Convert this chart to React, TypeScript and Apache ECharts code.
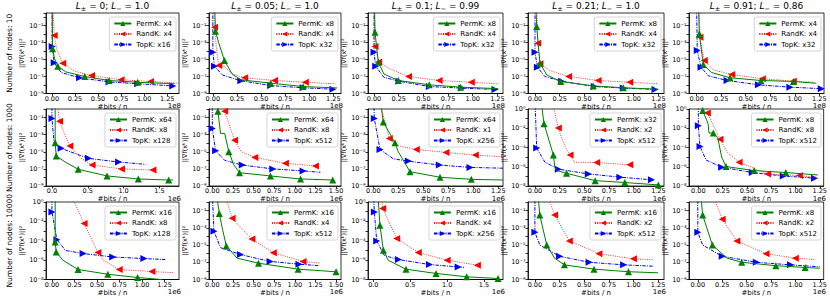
import React, { useEffect, useRef } from 'react';
import * as echarts from 'echarts';

type P = [number, number, number]; // [x (display units), y, marker flag]

// ---------- Row 1: 10 nodes (x in 1e8) ----------
const r1c1Perm: P[] = [[0.003, 10, 0], [0.007, 1.8e-4, 1], [0.03, 1.2e-5, 0], [0.064, 1.6e-6, 1], [0.15, 3.5e-7, 0], [0.356, 1e-7, 1], [0.62, 3.4e-8, 1], [0.93, 2.1e-8, 1], [1.33, 1.4e-8, 0]];
const r1c1Rand: P[] = [[0.012, 10, 0], [0.025, 6.6e-3, 1], [0.05, 2e-4, 0], [0.117, 3.7e-6, 1], [0.25, 4e-7, 0], [0.43, 1.3e-7, 1], [0.75, 4.1e-8, 1], [1.07, 2.6e-8, 1], [1.38, 1.6e-8, 0]];
const r1c1Top: P[] = [[0.002, 10, 0], [0.003, 3.4e-4, 1], [0.025, 4.1e-6, 1], [0.1, 3e-7, 0], [0.3, 7.1e-8, 1], [0.62, 2.3e-8, 1], [0.93, 1.4e-8, 1], [1.31, 7.9e-9, 1]];

const r1c2Perm: P[] = [[0.02, 10, 0], [0.027, 2.1e-2, 1], [0.06, 1e-3, 0], [0.12, 7.6e-6, 1], [0.2, 2e-7, 0], [0.29, 4.1e-8, 0], [0.6, 1.66e-8, 1], [0.936, 6.6e-9, 1], [1.29, 4.5e-9, 0]];
const r1c2Rand: P[] = [[0.012, 10, 0], [0.017, 6.3e-2, 1], [0.04, 1e-4, 0], [0.062, 2e-6, 1], [0.12, 1.5e-6, 0], [0.2, 2e-7, 0], [0.33, 7.1e-8, 1], [0.64, 3.4e-8, 1], [0.96, 2.1e-8, 1], [1.27, 1.4e-8, 0]];
const r1c2Top: P[] = [[0.0, 10, 0], [0.0, 7.2e-5, 1], [0.017, 1.6e-6, 1], [0.1, 1.5e-7, 0], [0.29, 3.2e-8, 1], [0.6, 8.7e-9, 1], [0.936, 4.7e-9, 1], [1.246, 3.2e-9, 1]];

const r1c3Perm: P[] = [[0.005, 10, 0], [0.01, 1.6e-2, 1], [0.044, 4.9e-6, 1], [0.1, 2e-7, 0], [0.246, 3.4e-8, 1], [0.56, 1.05e-8, 1], [0.878, 5.6e-9, 1], [1.26, 3.7e-9, 0]];
const r1c3Rand: P[] = [[0.005, 10, 0], [0.01, 3.4e-4, 1], [0.047, 5e-6, 1], [0.16, 7.9e-7, 0], [0.35, 1e-7, 1], [0.66, 3.4e-8, 1], [0.986, 2.1e-8, 1], [1.26, 1.4e-8, 0]];
const r1c3Top: P[] = [[0.0, 10, 0], [0.0, 7.2e-5, 1], [0.017, 1.6e-6, 1], [0.1, 8e-8, 0], [0.253, 2.8e-8, 1], [0.56, 6.6e-9, 1], [0.89, 4.3e-9, 1], [1.226, 3e-9, 1]];

const r1c4Perm: P[] = [[0.01, 10, 0], [0.017, 7.6e-2, 1], [0.05, 3.7e-6, 1], [0.12, 1.5e-7, 0], [0.26, 2.6e-8, 1], [0.59, 7.9e-9, 1], [0.895, 4.7e-9, 1], [1.25, 3.2e-9, 0]];
const r1c4Rand: P[] = [[0.02, 10, 0], [0.027, 8.3e-4, 1], [0.05, 3.2e-6, 1], [0.15, 5e-7, 0], [0.34, 1e-7, 1], [0.64, 3.4e-8, 1], [0.96, 2.1e-8, 1], [1.25, 1.4e-8, 0]];
const r1c4Top: P[] = [[0.0, 10, 0], [0.0, 7.2e-5, 1], [0.024, 1.26e-6, 1], [0.1, 1e-7, 0], [0.27, 2.8e-8, 1], [0.6, 6.6e-9, 1], [0.895, 4.3e-9, 1], [1.216, 3e-9, 1]];

const r1c5Perm: P[] = [[0.02, 10, 0], [0.027, 1.05e-2, 1], [0.068, 2.6e-6, 1], [0.15, 3e-7, 0], [0.34, 7.1e-8, 1], [0.655, 3.4e-8, 1], [0.985, 2.6e-8, 1], [1.22, 1.6e-8, 0]];
const r1c5Rand: P[] = [[0.025, 10, 0], [0.034, 4.3e-3, 1], [0.078, 7.6e-6, 1], [0.17, 6e-7, 0], [0.357, 1.74e-7, 1], [0.67, 5.4e-8, 1], [0.985, 2.8e-8, 1], [1.2, 2.1e-8, 0]];
const r1c5Top: P[] = [[0.0, 10, 0], [0.006, 1.15e-4, 1], [0.044, 1.26e-6, 1], [0.12, 1.2e-7, 0], [0.31, 3.4e-8, 1], [0.63, 1.05e-8, 1], [0.95, 5.6e-9, 1], [1.27, 3.7e-9, 1]];

// ---------- Row 2: 1000 nodes (x in 1e6) ----------
const r2c1Perm: P[] = [[0.045, 10, 0], [0.045, 1.1e-4, 1], [0.06, 3.2e-6, 1], [0.18, 6.8e-7, 0], [0.367, 8.9e-8, 1], [0.77, 1.5e-8, 1], [1.206, 6.6e-9, 1], [1.63, 5e-9, 1], [1.69, 5e-9, 0]];
const r2c1Rand: P[] = [[0.07, 10, 0], [0.106, 3.7e-2, 1], [0.18, 1e-3, 0], [0.25, 4.6e-5, 1], [0.41, 1.7e-6, 0], [0.56, 2.8e-7, 1], [0.97, 1e-7, 1], [1.41, 7.2e-8, 1]];
const r2c1Top: P[] = [[0.0, 10, 0], [0.0, 7.6e-2, 1], [0.02, 1e-3, 0], [0.03, 1e-4, 0], [0.128, 2.5e-5, 1], [0.51, 1.7e-6, 1], [0.93, 6.3e-7, 1], [1.31, 3.4e-7, 0]];

const r2c2Perm: P[] = [[0.06, 10, 0], [0.068, 0.54, 1], [0.1, 1.4e-3, 0], [0.15, 1.4e-3, 0], [0.2, 1e-5, 1], [0.26, 3e-7, 0], [0.33, 3.6e-8, 1], [0.705, 1.5e-8, 1], [1.07, 6.6e-9, 1], [1.46, 5e-9, 1]];
const r2c2Rand: P[] = [[0.14, 10, 0], [0.15, 0.54, 1], [0.2, 2e-2, 0], [0.27, 2.3e-4, 1], [0.35, 1e-5, 0], [0.515, 2.2e-6, 1], [0.886, 4.5e-7, 1], [1.25, 2.2e-7, 1]];
const r2c2Top: P[] = [[0.0, 10, 0], [0.0, 5.2e-3, 1], [0.04, 1.3e-5, 1], [0.15, 1e-6, 0], [0.363, 2.8e-7, 1], [0.733, 1e-7, 1], [1.1, 5.8e-8, 1], [1.31, 4e-8, 0]];

const r2c3Perm: P[] = [[0.07, 10, 0], [0.1, 3.1e-2, 1], [0.217, 1.1e-4, 1], [0.25, 1e-5, 0], [0.3, 1e-6, 0], [0.367, 4.7e-8, 1], [0.667, 1.05e-8, 1], [0.98, 6e-9, 1], [1.3, 5e-9, 0]];
const r2c3Rand: P[] = [[0.06, 10, 0], [0.16, 3.6e-4, 1], [0.25, 5e-5, 0], [0.43, 1.9e-5, 1], [0.727, 8.5e-6, 1], [1.02, 4.1e-6, 1], [1.3, 2.6e-6, 0]];
const r2c3Top: P[] = [[0.005, 10, 0], [0.01, 7.6e-2, 1], [0.067, 1.9e-5, 1], [0.2, 1.5e-6, 0], [0.35, 8.1e-7, 1], [0.66, 2.8e-7, 1], [0.967, 1.5e-7, 1], [1.3, 1.2e-7, 0]];

const r2c4Perm: P[] = [[0.06, 10, 0], [0.091, 2.95e-2, 1], [0.186, 1.7e-5, 1], [0.2, 1e-6, 0], [0.22, 4e-7, 0], [0.32, 2.1e-7, 1], [0.61, 3.6e-8, 1], [0.91, 2.3e-8, 1], [1.25, 1.3e-8, 1]];
const r2c4Rand: P[] = [[0.17, 10, 0], [0.236, 1.05e-2, 1], [0.27, 1e-3, 0], [0.31, 1e-4, 0], [0.355, 1.7e-5, 1], [0.4, 3e-6, 0], [0.625, 2.75e-6, 1], [0.96, 1.6e-6, 1]];
const r2c4Top: P[] = [[0.0, 10, 0], [0.017, 8.7e-5, 1], [0.1, 3e-6, 0], [0.236, 5.6e-7, 1], [0.54, 1.8e-7, 1], [0.86, 8.3e-8, 1], [1.18, 4.4e-8, 1]];

const r2c5Perm: P[] = [[0.03, 10, 0], [0.045, 0.71, 1], [0.1, 3e-2, 0], [0.11, 3.2e-3, 0], [0.154, 3.2e-3, 1], [0.2, 1e-3, 0], [0.24, 1e-5, 0], [0.285, 1.05e-6, 1], [0.575, 4e-7, 1], [0.9, 2.5e-7, 1], [1.23, 1.4e-7, 0]];
const r2c5Rand: P[] = [[0.07, 10, 0], [0.093, 0.38, 1], [0.223, 7.4e-4, 1], [0.3, 3e-5, 0], [0.42, 3e-6, 1], [0.713, 1.8e-7, 1], [1.04, 1.2e-7, 1], [1.23, 8e-8, 0]];
const r2c5Top: P[] = [[0.0, 10, 0], [0.0, 1.8e-2, 1], [0.017, 1.26e-4, 1], [0.08, 5e-6, 0], [0.24, 9.1e-7, 1], [0.555, 2.5e-7, 1], [0.874, 1.1e-7, 1], [1.196, 6.5e-8, 1]];

// ---------- Row 3: 10000 nodes (x in 1e6) ----------
const r3c1Perm: P[] = [[0.036, 10, 0], [0.036, 7.6e-5, 1], [0.047, 7.1e-6, 1], [0.12, 1e-6, 0], [0.29, 1.07e-7, 1], [0.62, 3.5e-8, 1], [0.95, 1.6e-8, 1], [1.22, 1e-8, 0]];
const r3c1Rand: P[] = [[0.2, 10, 0], [0.357, 5.9e-3, 1], [0.51, 6e-6, 1], [0.57, 1e-6, 0], [0.747, 1.07e-7, 1], [1.11, 6.6e-8, 1], [1.35, 5e-8, 0]];
const r3c1Top: P[] = [[0.0, 10, 0], [0.0, 9.3e-2, 1], [0.055, 1.3e-4, 1], [0.15, 1e-5, 0], [0.346, 4.8e-6, 1], [0.674, 2.1e-6, 1], [1.02, 1.45e-6, 1], [1.257, 1.15e-6, 0]];

const r3c2Perm: P[] = [[0.05, 10, 0], [0.085, 4.6e-2, 1], [0.12, 1e-3, 0], [0.17, 7.9e-6, 1], [0.3, 3e-7, 0], [0.56, 7.9e-8, 1], [1.04, 1.6e-8, 1], [1.5, 7.9e-9, 1]];
const r3c2Rand: P[] = [[0.15, 10, 0], [0.24, 1.26e-2, 1], [0.48, 5e-5, 1], [0.74, 1.26e-6, 1], [1.1, 1.26e-7, 1], [1.3, 8e-8, 0]];
const r3c2Top: P[] = [[0.0, 10, 0], [0.02, 4e-4, 1], [0.1, 5e-6, 0], [0.34, 7.9e-7, 1], [0.7, 1.26e-7, 1], [1.05, 6e-8, 1], [1.3, 4e-8, 0]];

const r3c3Perm: P[] = [[0.06, 10, 0], [0.09, 4e-3, 1], [0.136, 1.05e-5, 1], [0.2, 1e-6, 0], [0.443, 1.15e-7, 1], [0.85, 4.2e-8, 1], [1.265, 1.9e-8, 1], [1.69, 1.26e-8, 1]];
const r3c3Rand: P[] = [[0.1, 10, 0], [0.127, 0.21, 1], [0.317, 1.7e-4, 1], [0.61, 6e-6, 1], [1.0, 1e-6, 1], [1.41, 3e-7, 1], [1.47, 2.8e-7, 0]];
const r3c3Top: P[] = [[0.0, 10, 0], [0.014, 9.3e-2, 1], [0.046, 9.5e-5, 1], [0.15, 3e-6, 0], [0.34, 1.15e-6, 1], [0.76, 3.5e-7, 1], [1.15, 2e-7, 1], [1.23, 1.8e-7, 0]];

const r3c4Perm: P[] = [[0.03, 10, 0], [0.05, 3e-2, 1], [0.12, 1e-5, 1], [0.2, 3e-7, 0], [0.3, 5e-8, 1], [0.6, 1.6e-8, 1], [0.95, 8e-9, 1], [1.25, 6e-9, 0]];
const r3c4Rand: P[] = [[0.12, 10, 0], [0.2, 3e-2, 1], [0.35, 3e-5, 1], [0.65, 1e-6, 1], [1.0, 2.5e-7, 1], [1.2, 2e-7, 0]];
const r3c4Top: P[] = [[0.0, 10, 0], [0.0, 3e-4, 1], [0.05, 1e-5, 0], [0.25, 5e-7, 1], [0.55, 1e-7, 1], [0.9, 5e-8, 1], [1.2, 3.5e-8, 0]];

const r3c5Perm: P[] = [[0.03, 10, 0], [0.05, 3e-2, 1], [0.15, 1e-5, 1], [0.3, 3e-7, 0], [0.45, 1e-7, 1], [0.8, 4e-8, 1], [1.1, 2.5e-8, 1], [1.25, 2e-8, 0]];
const r3c5Rand: P[] = [[0.15, 10, 0], [0.25, 1e-2, 1], [0.4, 3e-5, 1], [0.7, 1e-6, 1], [1.0, 3e-7, 1], [1.2, 2e-7, 0]];
const r3c5Top: P[] = [[0.0, 10, 0], [0.0, 3e-4, 1], [0.05, 1e-5, 0], [0.25, 5e-7, 1], [0.6, 1e-7, 1], [0.95, 5e-8, 1], [1.25, 3e-8, 0]];

// ---------- labels ----------
const nodeCounts = ['10', '1000', '10000'];
const lPlusMinus = ['0', '0.05', '0.1', '0.21', '0.91'];
const lMinus = ['1.0', '1.0', '0.99', '1.0', '0.86'];
const permMult = [['x4', 'x8', 'x8', 'x8', 'x4'], ['x64', 'x64', 'x64', 'x32', 'x8'], ['x16', 'x16', 'x16', 'x16', 'x8']];
const randMult = [['x4', 'x4', 'x4', 'x4', 'x4'], ['x8', 'x8', 'x1', 'x2', 'x8'], ['x8', 'x4', 'x4', 'x2', 'x2']];
const topMult = [['x16', 'x32', 'x32', 'x32', 'x32'], ['x128', 'x512', 'x256', 'x512', 'x512'], ['x128', 'x512', 'x256', 'x512', 'x512']];
const xOffsetText = ['1e8', '1e6', '1e6'];

const ticksQ = [0, 0.25, 0.5, 0.75, 1, 1.25];
const ticksQ6 = [0, 0.25, 0.5, 0.75, 1, 1.25, 1.5];
const ticksH = [0, 0.5, 1, 1.5];
const xTicks = [
  [ticksQ, ticksQ, ticksQ, ticksQ, ticksQ],
  [ticksH, ticksQ6, ticksQ, ticksQ, ticksQ],
  [ticksQ, ticksQ6, ticksH, ticksQ, ticksQ],
];
const xMin = [[-0.064, -0.04, -0.061, -0.071, -0.078], [-0.083, -0.04, -0.053, -0.071, -0.096], [-0.066, -0.04, -0.072, -0.07, -0.09]];
const xMax = [[1.378, 1.33, 1.307, 1.307, 1.298], [1.774, 1.56, 1.297, 1.307, 1.29], [1.41, 1.56, 1.757, 1.31, 1.29]];
const yMin = [[1e-9, 1e-9, 1e-9, 1e-9, 1e-9], [1e-9, 1e-9, 1e-9, 1e-8, 1e-8], [1e-8, 1e-9, 1e-8, 1e-9, 1e-9]];
const yMax = [[3, 3, 3, 3, 3], [1, 1, 1, 1, 1], [1, 1, 1, 1, 1]];

const panelData: P[][][] = [
  [[r1c1Perm, r1c1Rand, r1c1Top], [r1c2Perm, r1c2Rand, r1c2Top], [r1c3Perm, r1c3Rand, r1c3Top], [r1c4Perm, r1c4Rand, r1c4Top], [r1c5Perm, r1c5Rand, r1c5Top]],
  [[r2c1Perm, r2c1Rand, r2c1Top], [r2c2Perm, r2c2Rand, r2c2Top], [r2c3Perm, r2c3Rand, r2c3Top], [r2c4Perm, r2c4Rand, r2c4Top], [r2c5Perm, r2c5Rand, r2c5Top]],
  [[r3c1Perm, r3c1Rand, r3c1Top], [r3c2Perm, r3c2Rand, r3c2Top], [r3c3Perm, r3c3Rand, r3c3Top], [r3c4Perm, r3c4Rand, r3c4Top], [r3c5Perm, r3c5Rand, r3c5Top]],
];

// ---------- layout ----------
const W = 830;
const H = 299;
const colLeft = [46, 209, 368, 528, 689];
const colRight = [179, 341, 503, 664, 824];
const rowTop = [13, 109, 202];
const rowBottom = [93.5, 186, 279.5];
const FONT = 'DejaVu Sans';

const SUP: Record<string, string> = { '-': '⁻', '0': '⁰', '1': '¹', '2': '²', '3': '³', '4': '⁴', '5': '⁵', '6': '⁶', '7': '⁷', '8': '⁸', '9': '⁹' };
const sup = (n: number) => String(n).split('').map((ch) => SUP[ch] || ch).join('');

const kinds = [
  { prefix: 'PermK', color: '#008000', dash: 'solid' as any, rot: 0, width: 1 },
  { prefix: 'RandK', color: '#ff0000', dash: [1, 1.3] as any, rot: 90, width: 0.8 },
  { prefix: 'TopK', color: '#0000ff', dash: [3.5, 1.2, 1, 1.2] as any, rot: -90, width: 1 },
];

function buildOption() {
  const grid: any[] = [];
  const xAxis: any[] = [];
  const yAxis: any[] = [];
  const series: any[] = [];
  const legend: any[] = [];
  const graphic: any[] = [];
  const mults = [permMult, randMult, topMult];

  for (let r = 0; r < 3; r++) {
    for (let c = 0; c < 5; c++) {
      const idx = r * 5 + c;
      const left = colLeft[c];
      const width = colRight[c] - colLeft[c];
      const top = rowTop[r];
      const height = rowBottom[r] - rowTop[r];
      grid.push({ left, top, width, height, show: true, borderColor: '#000', borderWidth: 0.8, backgroundColor: 'transparent' });
      const ticks = xTicks[r][c];
      const dec = ticks[1] === 0.5 ? 1 : 2;
      xAxis.push({
        gridIndex: idx, type: 'value', min: xMin[r][c], max: xMax[r][c],
        axisLine: { show: true, onZero: false, lineStyle: { color: '#000', width: 0.8 } },
        axisTick: { show: true, customValues: ticks, length: 2.5, lineStyle: { color: '#000', width: 0.8 } },
        axisLabel: { customValues: ticks, formatter: (v: number) => v.toFixed(dec), fontSize: 6.5, color: '#000', margin: 1.5, fontFamily: FONT },
        splitLine: { show: false },
        name: '#bits / n', nameLocation: 'middle', nameGap: 9.5,
        nameTextStyle: { fontSize: 7, color: '#000', fontFamily: FONT },
      });
      const minExp = Math.round(Math.log10(yMin[r][c]));
      yAxis.push({
        gridIndex: idx, type: 'log', logBase: 10, min: yMin[r][c], max: yMax[r][c], splitNumber: 10,
        axisLine: { show: true, onZero: false, lineStyle: { color: '#000', width: 0.8 } },
        axisTick: { show: true, length: 2.5, lineStyle: { color: '#000', width: 0.8 } },
        axisLabel: {
          formatter: (v: number) => {
            const e = Math.round(Math.log10(v));
            return (e - minExp) % 2 === 0 ? '10' + sup(e) : '';
          },
          fontSize: 6.5, color: '#000', margin: 2.5, fontFamily: FONT,
        },
        splitLine: { show: false },
        name: '||∇f(xᵏ)||²', nameLocation: 'middle', nameRotate: 90, nameGap: 17,
        nameTextStyle: { fontSize: 6.5, color: '#000', fontFamily: FONT },
      });
      const names: string[] = [];
      kinds.forEach((k, ki) => {
        const name = `${k.prefix}: ${mults[ki][r][c]}`;
        names.push(name);
        const pts = panelData[r][c][ki];
        series.push({
          type: 'line', name, xAxisIndex: idx, yAxisIndex: idx,
          data: pts.map((p) => (p[2] ? { value: [p[0], p[1]] } : { value: [p[0], p[1]], symbol: 'none' })),
          symbol: 'triangle', symbolSize: 7, symbolRotate: k.rot, showSymbol: true,
          lineStyle: { color: k.color, width: k.width, type: k.dash },
          itemStyle: { color: k.color },
          clip: true, silent: true, z: 3 - ki,
        });
      });
      legend.push({
        data: names, orient: 'vertical', right: W - colRight[c] + 3, top: top + 4,
        itemWidth: 17, itemHeight: 6.5, itemGap: 3.5, padding: [3, 4, 3, 4],
        textStyle: { fontSize: 7, color: '#000', fontFamily: FONT },
        borderColor: '#cccccc', borderWidth: 0.8, borderRadius: 2, backgroundColor: 'rgba(255,255,255,0.8)',
        selectedMode: false,
      });
      graphic.push({
        type: 'text', x: colRight[c] + 2, y: rowBottom[r] + 9,
        style: { text: xOffsetText[r], fontSize: 7, fontFamily: FONT, fill: '#000', textAlign: 'right', textVerticalAlign: 'top' },
      });
    }
  }
  for (let c = 0; c < 5; c++) {
    graphic.push({
      type: 'text', x: (colLeft[c] + colRight[c]) / 2, y: 6,
      style: {
        text: `{i|L}{s|±}{n| = ${lPlusMinus[c]}; }{i|L}{s|−}{n| = ${lMinus[c]}}`,
        textAlign: 'center', textVerticalAlign: 'middle', fill: '#000',
        rich: {
          i: { fontSize: 9, fontStyle: 'italic', fontFamily: FONT, lineHeight: 12, verticalAlign: 'middle' },
          n: { fontSize: 9, fontFamily: FONT, lineHeight: 12, verticalAlign: 'middle' },
          s: { fontSize: 6.5, fontFamily: FONT, lineHeight: 12, verticalAlign: 'bottom', padding: [0, 0, 0, 0] },
        },
      },
    });
  }
  for (let r = 0; r < 3; r++) {
    graphic.push({
      type: 'text', x: 9, y: (rowTop[r] + rowBottom[r]) / 2, rotation: Math.PI / 2,
      style: { text: `Number of nodes: ${nodeCounts[r]}`, fontSize: 7.5, fontFamily: FONT, fill: '#000', textAlign: 'center', textVerticalAlign: 'middle' },
    });
  }
  return { animation: false, backgroundColor: '#fff', grid, xAxis, yAxis, series, legend, graphic };
}

export default function App() {
  const ref = useRef<HTMLDivElement>(null);
  useEffect(() => {
    if (!ref.current) return;
    const chart = echarts.init(ref.current, undefined, { renderer: 'svg' });
    chart.setOption(buildOption() as any);
    return () => chart.dispose();
  }, []);
  return <div ref={ref} style={{ position: 'absolute', left: 0, top: 0, width: W, height: H }} />;
}
